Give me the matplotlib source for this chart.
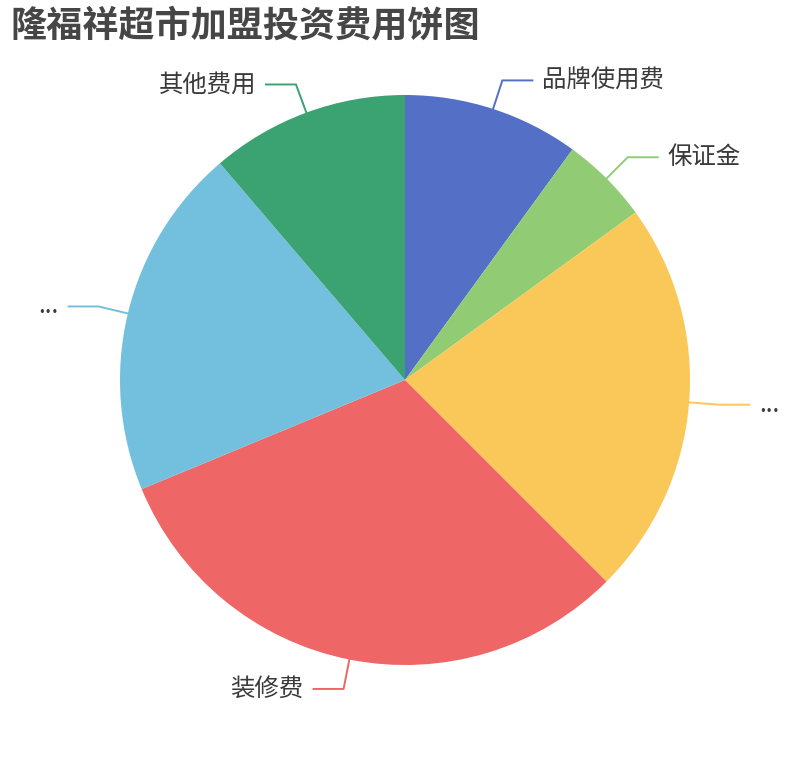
import numpy as np
import matplotlib
matplotlib.use("Agg")
import matplotlib.pyplot as plt

plt.rcParams['font.family'] = ['Noto Sans CJK SC', 'DejaVu Sans']

title = "隆福祥超市加盟投资费用饼图"
labels = ["品牌使用费", "保证金", "...", "装修费", "...", "其他费用"]
values = [8, 4, 18, 25, 16, 9]
colors = ["#5470c6", "#91cc75", "#fac858", "#ee6666", "#73c0de", "#3ba272"]

W, H = 810, 760
fig = plt.figure(figsize=(W / 100, H / 100), dpi=100)
ax = fig.add_axes([0, 0, 1, 1])

cx, cy, r = 405, H - 380, 285
ax.pie(values, colors=colors, startangle=90, counterclock=False,
       radius=r, center=(cx, cy), wedgeprops=dict(linewidth=0))
ax.set_xlim(0, W)
ax.set_ylim(0, H)
ax.set_aspect('equal')
ax.axis('off')

total = sum(values)
start = 0.0
for lab, v, col in zip(labels, values, colors):
    ang = start + v / total * 360 / 2
    start += v / total * 360
    t = np.deg2rad(ang)
    sx, sy = np.sin(t), np.cos(t)
    x0, y0 = cx + r * sx, cy + r * sy
    x1, y1 = cx + (r + 30) * sx, cy + (r + 30) * sy
    d = 1 if sx >= 0 else -1
    x2 = x1 + d * 30
    ax.plot([x0, x1, x2], [y0, y1, y1], color=col, lw=1.4,
            solid_joinstyle='miter', zorder=3)
    ax.text(x2 + d * 10, y1, lab, ha='left' if d > 0 else 'right',
            va='center', fontsize=17.6, color='#3a3a3a')

ax.text(10, H - 26, title, ha='left', va='center', fontsize=26,
        fontweight='bold', color='#464646')

fig.savefig("out.png", dpi=100)
